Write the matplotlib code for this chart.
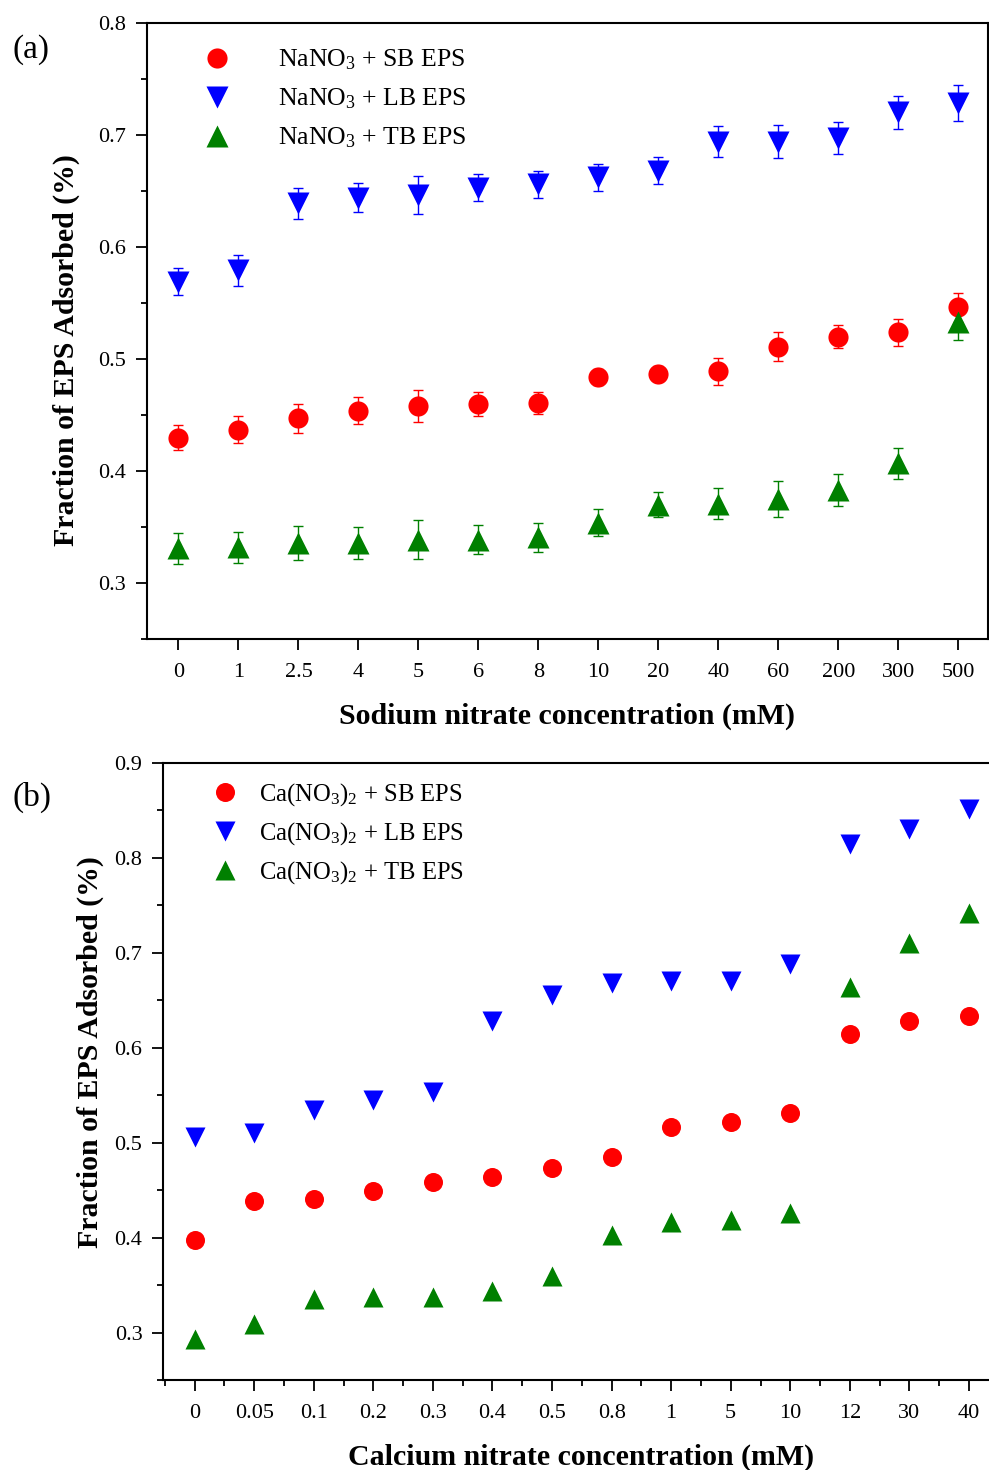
import numpy as np
import matplotlib
matplotlib.use('Agg')
import matplotlib.pyplot as plt
from matplotlib.ticker import MultipleLocator, FixedLocator

# fonts (Times-like)
plt.rcParams['font.family'] = ['Liberation Serif', 'DejaVu Serif']
plt.rcParams['mathtext.fontset'] = 'custom'
plt.rcParams['mathtext.rm'] = 'Liberation Serif'
plt.rcParams['mathtext.it'] = 'Liberation Serif:italic'
plt.rcParams['mathtext.bf'] = 'Liberation Serif:bold'

# data panel (a): sodium nitrate
na_conc = ['0', '1', '2.5', '4', '5', '6', '8', '10', '20', '40', '60', '200', '300', '500']
na_sb = [0.430, 0.437, 0.447, 0.454, 0.458, 0.460, 0.461, 0.484, 0.487, 0.489, 0.511, 0.520, 0.524, 0.546]
na_sb_err = [0.011, 0.012, 0.013, 0.012, 0.014, 0.011, 0.010, 0.007, 0.007, 0.012, 0.013, 0.010, 0.012, 0.013]
na_lb = [0.569, 0.579, 0.639, 0.644, 0.646, 0.653, 0.656, 0.662, 0.668, 0.694, 0.694, 0.697, 0.720, 0.728]
na_lb_err = [0.012, 0.014, 0.014, 0.013, 0.017, 0.012, 0.012, 0.012, 0.012, 0.014, 0.015, 0.014, 0.015, 0.016]
na_tb = [0.331, 0.332, 0.336, 0.336, 0.339, 0.339, 0.341, 0.354, 0.370, 0.371, 0.375, 0.383, 0.407, 0.533]
na_tb_err = [0.014, 0.014, 0.015, 0.014, 0.017, 0.013, 0.013, 0.012, 0.011, 0.014, 0.016, 0.014, 0.014, 0.016]

# data panel (b): calcium nitrate
ca_conc = ['0', '0.05', '0.1', '0.2', '0.3', '0.4', '0.5', '0.8', '1', '5', '10', '12', '30', '40']
ca_sb = [0.397, 0.438, 0.441, 0.449, 0.459, 0.464, 0.473, 0.485, 0.516, 0.522, 0.531, 0.614, 0.628, 0.633]
ca_lb = [0.506, 0.510, 0.534, 0.545, 0.553, 0.628, 0.655, 0.668, 0.670, 0.670, 0.688, 0.814, 0.830, 0.851]
ca_tb = [0.293, 0.309, 0.335, 0.337, 0.337, 0.344, 0.359, 0.403, 0.416, 0.418, 0.426, 0.664, 0.710, 0.742]

red = '#ff0000'
blue = '#0000ff'
green = '#008000'

W, H = 989, 1470
fig = plt.figure(figsize=(W / 100, H / 100), dpi=100)

def style_axes(ax):
    for s in ax.spines.values():
        s.set_linewidth(1.5)
    ax.tick_params(axis='both', which='major', direction='out', length=8, width=1.3,
                   labelsize=16, pad=7)
    ax.tick_params(axis='x', which='major', pad=9)
    ax.tick_params(axis='both', which='minor', direction='out', length=4, width=1.3)


# ---- panel (a)
ax1 = fig.add_axes([146.7 / W, 1 - 639.3 / H, 841 / W, 616.6 / H])
x = np.arange(len(na_conc))
for y, e, c in [(na_sb, na_sb_err, red), (na_lb, na_lb_err, blue), (na_tb, na_tb_err, green)]:
    ax1.errorbar(x, y, yerr=e, fmt='none', ecolor=c, elinewidth=1, capsize=3.6, capthick=1, zorder=2)
ax1.plot(x, na_sb, 'o', color=red, ms=14.5, mec='none', zorder=3, label=r'NaNO$_3$ + SB EPS')
ax1.plot(x, na_lb, 'v', color=blue, ms=16, mec='none', zorder=3, label=r'NaNO$_3$ + LB EPS')
ax1.plot(x, na_tb, '^', color=green, ms=16, mec='none', zorder=3, label=r'NaNO$_3$ + TB EPS')
ax1.set_xlim(-0.53, 13.49)
ax1.set_ylim(0.25, 0.8)
ax1.set_xticks(x)
ax1.set_xticklabels(na_conc)
ax1.set_yticks([0.3, 0.4, 0.5, 0.6, 0.7, 0.8])
ax1.set_yticklabels(['0.3', '0.4', '0.5', '0.6', '0.7', '0.8'])
ax1.yaxis.set_minor_locator(MultipleLocator(0.05))
style_axes(ax1)
ax1.set_xlabel('Sodium nitrate concentration (mM)', fontsize=21.5, fontweight='bold', labelpad=15)
ax1.set_ylabel('Fraction of EPS Adsorbed (%)', fontsize=21.5, fontweight='bold')
ax1.yaxis.set_label_coords(-0.079, 0.469)
ax1.legend(loc='upper left', bbox_to_anchor=(0.0255, 0.997), frameon=False, fontsize=18.5,
           handletextpad=1.37, labelspacing=0.56, numpoints=1)
fig.text(12 / W, 1 - 50 / H, '(a)', fontsize=24, va='center', ha='left')

# ---- panel (b)
ax2 = fig.add_axes([163.3 / W, 1 - 1380 / H, 835.5 / W, 617.3 / H])
x = np.arange(len(ca_conc))
ax2.plot(x, ca_sb, 'o', color=red, ms=13.7, mec='none', label=r'Ca(NO$_3$)$_2$ + SB EPS')
ax2.plot(x, ca_lb, 'v', color=blue, ms=15, mec='none', label=r'Ca(NO$_3$)$_2$ + LB EPS')
ax2.plot(x, ca_tb, '^', color=green, ms=15, mec='none', label=r'Ca(NO$_3$)$_2$ + TB EPS')
ax2.set_xlim(-0.525, 13.5)
ax2.set_ylim(0.25, 0.9)
ax2.set_xticks(x)
ax2.set_xticklabels(ca_conc)
ax2.xaxis.set_minor_locator(FixedLocator(np.arange(-0.5, 14, 1.0)))
ax2.set_yticks([0.3, 0.4, 0.5, 0.6, 0.7, 0.8, 0.9])
ax2.set_yticklabels(['0.3', '0.4', '0.5', '0.6', '0.7', '0.8', '0.9'])
ax2.yaxis.set_minor_locator(MultipleLocator(0.05))
style_axes(ax2)
ax2.set_xlabel('Calcium nitrate concentration (mM)', fontsize=21.5, fontweight='bold', labelpad=15)
ax2.set_ylabel('Fraction of EPS Adsorbed (%)', fontsize=21.5, fontweight='bold')
ax2.yaxis.set_label_coords(-0.071, 0.531)
ax2.legend(loc='upper left', bbox_to_anchor=(0.0174, 1.0065), frameon=False, fontsize=17.7,
           handletextpad=0.42, labelspacing=0.5, numpoints=1)
fig.text(12 / W, 1 - 797 / H, '(b)', fontsize=24, va='center', ha='left')

fig.savefig('out.png', dpi=100)
